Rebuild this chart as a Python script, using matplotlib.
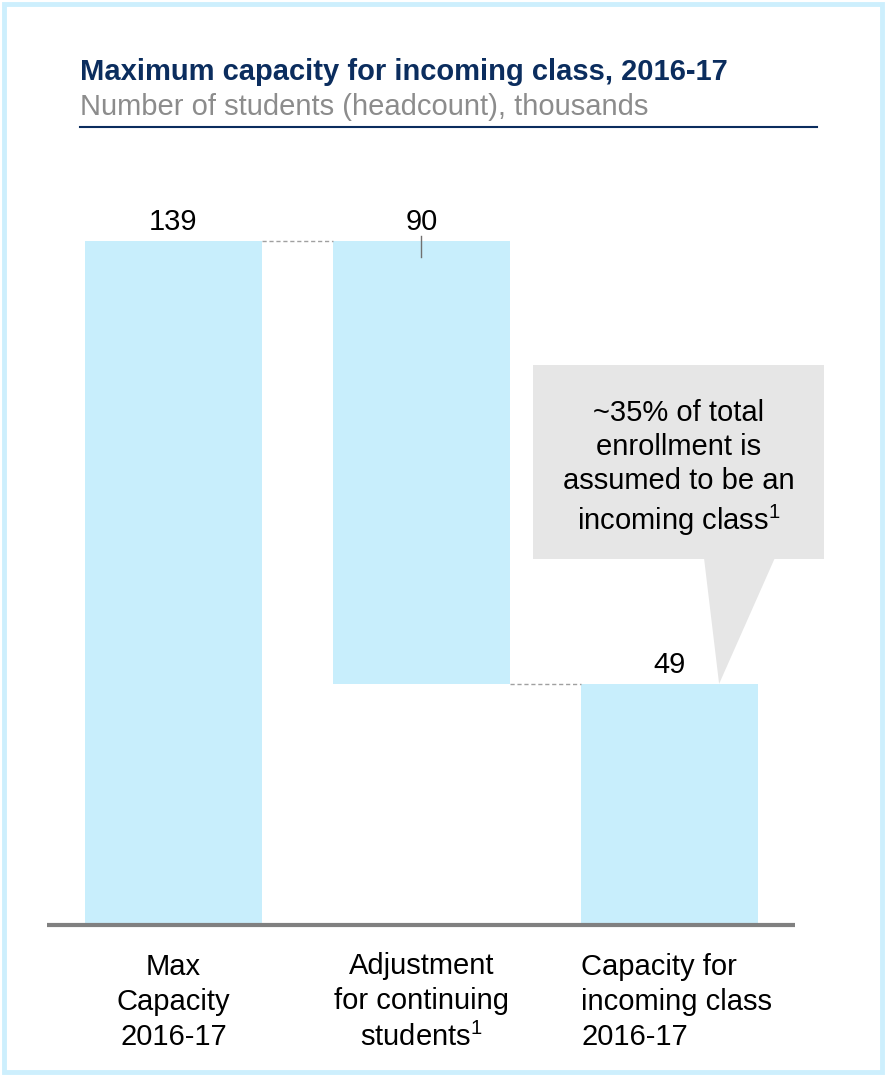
import matplotlib.pyplot as plt
from matplotlib.patches import Rectangle, Polygon

# data
categories = ["Max\nCapacity\n2016-17",
              "Adjustment\nfor continuing\nstudents$^1$",
              "Capacity for\nincoming class\n2016-17"]
totals = [139, None, 49]
adjustment = 90
value_labels = ["139", "90", "49"]
callout_lines = "~35% of total\nenrollment is\nassumed to be an\nincoming class$^1$"

plt.rcParams['font.family'] = ['Liberation Sans', 'DejaVu Sans']
plt.rcParams['mathtext.fontset'] = 'custom'
plt.rcParams['mathtext.rm'] = 'Liberation Sans'

BAR_COLOR = '#c8eefc'
NAVY = '#0b2d5e'

W, H = 885, 1075
fig = plt.figure(figsize=(W / 100, H / 100), dpi=100)

# light blue frame
fig.patches.append(Rectangle((4 / W, 3 / H), 878 / W, 1068 / H, transform=fig.transFigure,
                             fill=False, edgecolor='#cdeffd', linewidth=3.5))

# title block
fig.text(80 / W, 1 - 72 / H, "Maximum capacity for incoming class, 2016-17",
         fontsize=21, fontweight='bold', color=NAVY, va='center', ha='left')
fig.text(80 / W, 1 - 107 / H, "Number of students (headcount), thousands",
         fontsize=21, color='#8c8c8c', va='center', ha='left')
fig.add_artist(plt.Line2D([80 / W, 817 / W], [1 - 127 / H, 1 - 127 / H],
                          color=NAVY, linewidth=1.5, transform=fig.transFigure))

# axes: baseline at y=925px, 4.921 px per unit
px_per_unit = 684 / 139
ytop = 160
ax = fig.add_axes([47 / W, (H - 925) / H, 748 / W, ytop * px_per_unit / H])
ax.set_xlim(-0.51, 2.506)
ax.set_ylim(0, ytop)
ax.axis('off')

x = [0, 1, 2]
width = 0.71
start, end = totals[0], totals[2]
bottoms = [0, start - adjustment, 0]
heights = [start, adjustment, end]
ax.bar(x, heights, bottom=bottoms, width=width, color=BAR_COLOR, edgecolor='none', zorder=2)

# baseline
ax.plot([-0.51, 2.506], [0, 0], color='#808080', linewidth=3, clip_on=False, zorder=3,
        solid_capstyle='butt')

# connectors
ax.plot([x[0] + width / 2, x[1] - width / 2], [start, start], color='#a0a0a0',
        linestyle=(0, (3, 2)), linewidth=1, zorder=3)
ax.plot([x[1] + width / 2, x[2] - width / 2], [end, end], color='#a0a0a0',
        linestyle=(0, (3, 2)), linewidth=1, zorder=3)

# value labels
ax.text(x[0], start + 2.3, value_labels[0], ha='center', va='baseline', fontsize=21)
ax.text(x[1], start + 2.3, value_labels[1], ha='center', va='baseline', fontsize=21)
ax.plot([x[1], x[1]], [start + 1, start - 3.3], color='#707070', linewidth=1, zorder=3)
ax.text(x[2], end + 2.3, value_labels[2], ha='center', va='baseline', fontsize=21)

# callout box with pointer to the last bar
box_x0, box_x1 = 1.450, 2.623
box_y0, box_y1 = 74.4, 113.8
ax.add_patch(Rectangle((box_x0, box_y0), box_x1 - box_x0, box_y1 - box_y0,
                       facecolor='#e6e6e6', edgecolor='none', clip_on=False, zorder=4))
ax.add_patch(Polygon([(2.139, box_y0 + 0.2), (2.425, box_y0 + 0.2), (2.200, end)],
                     closed=True, facecolor='#e6e6e6', edgecolor='none', clip_on=False, zorder=4))
ax.text((box_x0 + box_x1) / 2, (box_y0 + box_y1) / 2 - 1.3, callout_lines,
        ha='center', va='center', fontsize=21, linespacing=1.27, zorder=5)

# category labels (last one is left-aligned at the bar edge)
for xi, lab in zip(x[:2], categories[:2]):
    ax.text(xi, -15.6, lab, ha='center', va='center', fontsize=21, linespacing=1.33, clip_on=False)
ax.text(x[2] - width / 2, -15.6, categories[2], ha='left', va='center', multialignment='left',
        fontsize=21, linespacing=1.33, clip_on=False)

fig.savefig('out.png', dpi=100)
